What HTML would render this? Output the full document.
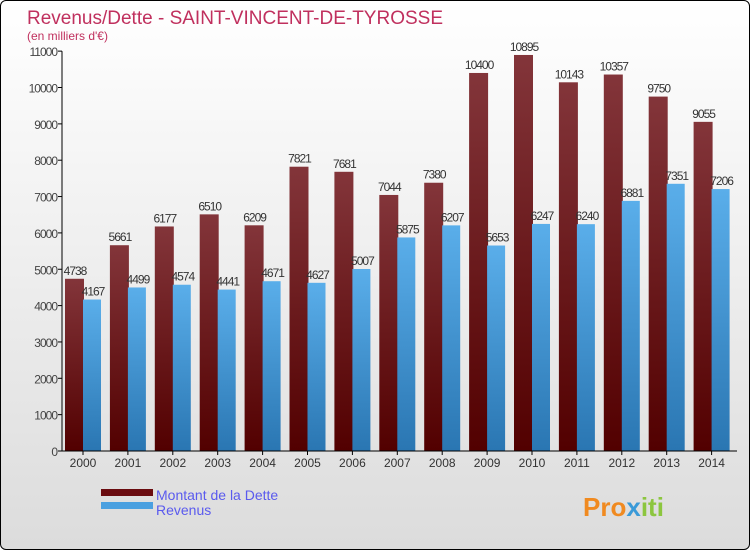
<!DOCTYPE html>
<html><head><meta charset="utf-8"><style>
body{margin:0}
#c{width:748px;height:548px;border:1px solid #000;border-radius:6px;overflow:hidden;position:relative;background:linear-gradient(#fff,#dcdcdc);font-family:"Liberation Sans",sans-serif}
</style></head><body>
<div id="c">
<svg width="748" height="548" id="s">
<defs>
<linearGradient id="gr" x1="0" y1="0" x2="0" y2="1"><stop offset="0" stop-color="#83353a"/><stop offset="1" stop-color="#520000"/></linearGradient>
<linearGradient id="gb" x1="0" y1="0" x2="0" y2="1"><stop offset="0" stop-color="#5aaeea"/><stop offset="1" stop-color="#2a76b2"/></linearGradient>
</defs>
<text x="26" y="23" font-size="19" fill="#c0305e">Revenus/Dette - SAINT-VINCENT-DE-TYROSSE</text>
<text x="26" y="39" font-size="12" fill="#c0305e">(en milliers d'€)</text>
<g id="g"></g>
<rect x="100" y="488" width="52" height="7" fill="#6a0c10"/>
<rect x="100" y="501" width="52" height="7" fill="#4aa0e0"/>
<text x="155" y="499" font-size="14" fill="#5a5aee">Montant de la Dette</text>
<text x="155" y="514" font-size="14" fill="#5a5aee">Revenus</text>
<text x="582" y="515" font-size="26" font-weight="bold" fill="#f08a20">Pro<tspan fill="#3a9ad8">x</tspan><tspan fill="#8cc63f">iti</tspan></text>
</svg>
</div>
<script>
const years=["2000","2001","2002","2003","2004","2005","2006","2007","2008","2009","2010","2011","2012","2013","2014"];
const dette=[4738,5661,6177,6510,6209,7821,7681,7044,7380,10400,10895,10143,10357,9750,9055];
const revenus=[4167,4499,4574,4441,4671,4627,5007,5875,6207,5653,6247,6240,6881,7351,7206];
const ticks=[0,1000,2000,3000,4000,5000,6000,7000,8000,9000,10000,11000];
const NS="http://www.w3.org/2000/svg",g=document.getElementById('g');
const y=v=>450-v*0.03635, X=i=>61+i*44.9;
function mk(t,a,txt){const e=document.createElementNS(NS,t);for(const k in a)e.setAttribute(k,a[k]);if(txt!==undefined)e.textContent=txt;g.appendChild(e);return e;}
ticks.forEach(t=>{
 const l=mk('line',{x1:57,x2:61,y1:y(t),y2:y(t),stroke:'#000'});
 
 
 const tx=mk('text',{x:56,y:y(t)+5,'font-size':12,'text-anchor':'end',fill:'#444','letter-spacing':'-1'},t);
 
 
});
years.forEach((yr,i)=>{
 const x=X(i);
 const r=mk('rect',{x:x+3,y:y(dette[i]),width:19,height:450-y(dette[i]),fill:'url(#gr)'});
 
 
 const b=mk('rect',{x:x+21,y:y(revenus[i]),width:18,height:450-y(revenus[i]),fill:'url(#gb)'});
 
 
 const t1=mk('text',{x:x+13,y:y(dette[i])-4,'font-size':12,'text-anchor':'middle',fill:'#333','letter-spacing':'-1'},dette[i]);
 
 
 const t2=mk('text',{x:x+31,y:y(revenus[i])-4,'font-size':12,'text-anchor':'middle',fill:'#333','letter-spacing':'-1'},revenus[i]);
 
 
 const tk=mk('line',{x1:x+21,x2:x+21,y1:450,y2:454,stroke:'#000'});
 
 
 const xl=mk('text',{x:x+21,y:466,'font-size':12,'text-anchor':'middle',fill:'#333'},yr);
 
 
});
const ax=mk('line',{x1:61,x2:61,y1:y(11000),y2:450,stroke:'#000'});


const bx=mk('line',{x1:61,x2:736,y1:450,y2:450,stroke:'#000'});


</script>
</body></html>
